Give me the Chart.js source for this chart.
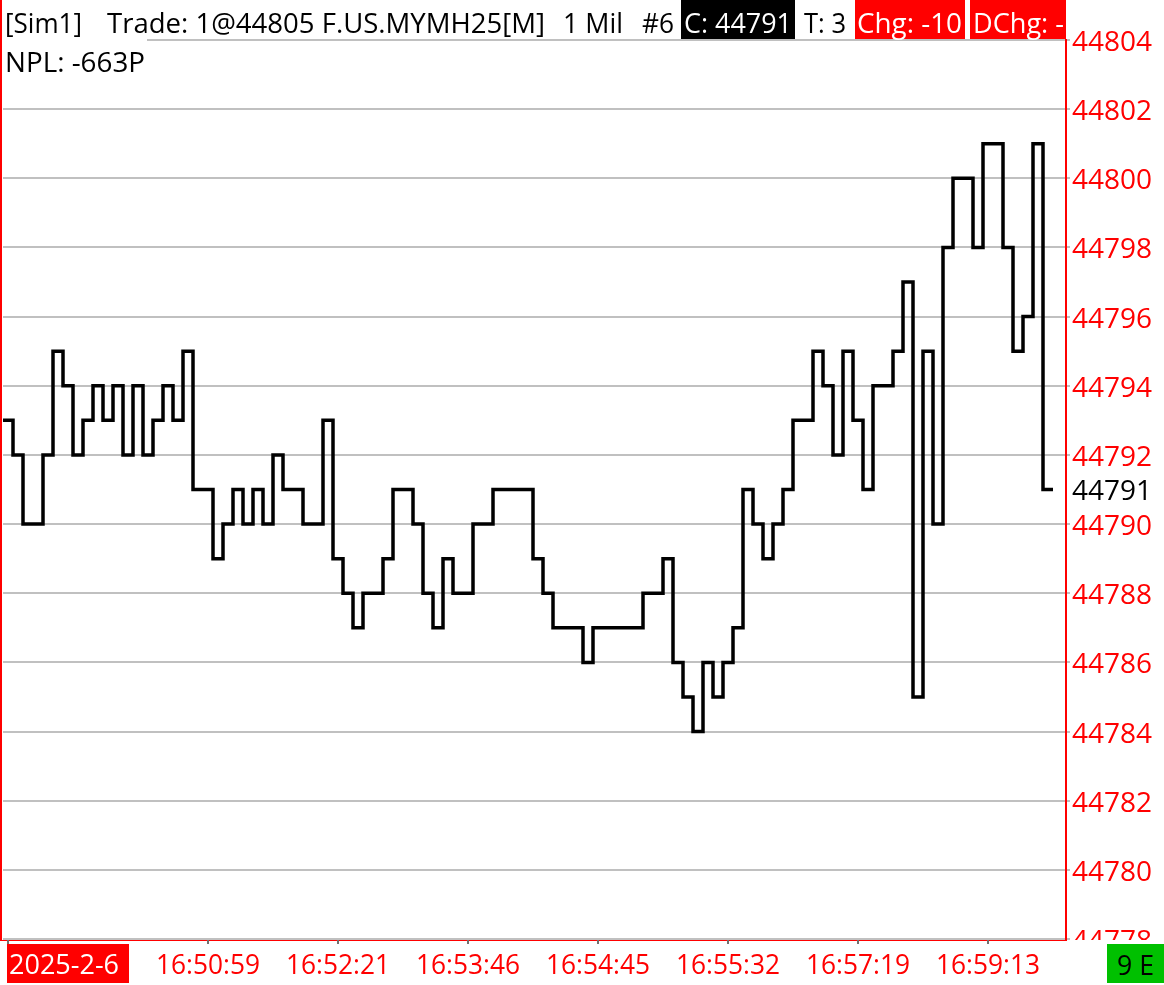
<!DOCTYPE html>
<html>
<head>
<meta charset="utf-8">
<script src="https://cdn.jsdelivr.net/npm/chart.js@4.4.1/dist/chart.umd.min.js"></script>
<style>
html, body { margin: 0; padding: 0; background: #fff; }
#wrap { width: 1164px; height: 985px; position: relative; }
</style>
</head>
<body>
<div id="wrap"><canvas id="tick-chart"></canvas></div>
<script>
// one value per tick bar, left to right
var prices = [
    44793, 44792, 44790, 44790, 44792, 44795, 44794, 44792, 44793, 44794,
    44793, 44794, 44792, 44794, 44792, 44793, 44794, 44793, 44795, 44791,
    44791, 44789, 44790, 44791, 44790, 44791, 44790, 44792, 44791, 44791,
    44790, 44790, 44793, 44789, 44788, 44787, 44788, 44788, 44789, 44791,
    44791, 44790, 44788, 44787, 44789, 44788, 44788, 44790, 44790, 44791,
    44791, 44791, 44791, 44789, 44788, 44787, 44787, 44787, 44786, 44787,
    44787, 44787, 44787, 44787, 44788, 44788, 44789, 44786, 44785, 44784,
    44786, 44785, 44786, 44787, 44791, 44790, 44789, 44790, 44791, 44793,
    44793, 44795, 44794, 44792, 44795, 44793, 44791, 44794, 44794, 44795,
    44797, 44785, 44795, 44790, 44798, 44800, 44800, 44798, 44801, 44801,
    44798, 44795, 44796, 44801, 44791, 44791
];
var priceMin = 44778;
var priceMax = 44804;
var priceStep = 2;

var dateLabel = "2025-2-6";
var timeLabels = ["16:50:59", "16:52:21", "16:53:46", "16:54:45", "16:55:32", "16:57:19", "16:59:13"];
var timeTickBars = [20, 33, 46, 59, 72, 85, 98];

var headerTexts = ["[Sim1]", "Trade: 1@44805 F.US.MYMH25[M]", "1 Mil", "#6", "C: 44791", "T: 3", "Chg: -10", "DChg: -"];
var nplText = "NPL: -663P";
var barCountText = "9 E";

var FONT = '"Open Sans", "Noto Sans", sans-serif';

var overlay = {
    id: 'overlay',
    afterDraw: function(chart) {
        var ctx = chart.ctx;
        var xs = chart.scales.x;
        var ys = chart.scales.y;
        var area = chart.chartArea;
        ctx.save();

        // bottom strip hides the cut 44778 label
        ctx.fillStyle = '#fff';
        ctx.fillRect(0, area.bottom + 1, chart.width, chart.height - area.bottom);
        // hide top grid line under the first header words
        ctx.fillRect(2, area.top - 2, 145, 4);

        // frame lines
        ctx.fillStyle = '#ff0000';
        ctx.fillRect(0, 0, 2, area.bottom + 2);
        ctx.fillRect(0, area.bottom + 1, area.right + 1, 1);

        // x ticks
        ctx.strokeStyle = '#707070';
        ctx.lineWidth = 2;
        var tickBars = [0].concat(timeTickBars);
        tickBars.forEach(function(b) {
            var px = Math.round(xs.getPixelForValue(b + 0.5));
            ctx.beginPath();
            ctx.moveTo(px, area.bottom + 1);
            ctx.lineTo(px, area.bottom + 5);
            ctx.stroke();
        });

        // date box
        ctx.fillStyle = '#ff0000';
        ctx.fillRect(7, 944, 122, 39);
        ctx.font = '27px ' + FONT;
        ctx.textBaseline = 'alphabetic';
        ctx.textAlign = 'left';
        ctx.fillStyle = '#fff';
        ctx.fillText(dateLabel, 9, 974, 118);

        // time labels
        ctx.fillStyle = '#ff0000';
        ctx.textAlign = 'center';
        timeLabels.forEach(function(t, i) {
            var px = xs.getPixelForValue(timeTickBars[i] + 0.5);
            ctx.fillText(t, px, 974, 104);
        });

        // bar counter
        ctx.fillStyle = '#00c000';
        ctx.fillRect(1107, 944, 57, 39);
        ctx.fillStyle = '#000';
        ctx.textAlign = 'left';
        ctx.fillText(barCountText, 1117, 975, 37);

        // header
        ctx.font = '28px ' + FONT;
        ctx.fillStyle = '#000';
        ctx.fillText(headerTexts[0], 5, 33, 77);
        ctx.fillText(headerTexts[1], 107, 33, 438);
        ctx.fillText(headerTexts[2], 563, 33, 60);
        ctx.fillText(headerTexts[3], 642, 33, 32);
        ctx.fillRect(681, 0, 114, 39);
        ctx.fillStyle = '#fff';
        ctx.fillText(headerTexts[4], 684, 33, 108);
        ctx.fillStyle = '#000';
        ctx.fillText(headerTexts[5], 804, 33, 42);
        ctx.fillStyle = '#ff0000';
        ctx.fillRect(855, 0, 110, 39);
        ctx.fillRect(970, 0, 96, 39);
        ctx.fillStyle = '#fff';
        ctx.fillText(headerTexts[6], 857, 33, 105);
        ctx.fillText(headerTexts[7], 973, 33, 91);
        ctx.fillStyle = '#000';
        ctx.fillText(nplText, 5, 72, 140);

        // last price tag
        var last = prices[prices.length - 1];
        ctx.fillText(String(last), 1072, ys.getPixelForValue(last) + 10, 80);

        ctx.restore();
    }
};

var ctx = document.getElementById('tick-chart').getContext('2d');
var points = prices.map(function(p, i) { return { x: i, y: p }; });

var chart = new Chart(ctx, {
    type: 'line',
    data: {
        datasets: [{
            data: points,
            stepped: true,
            borderColor: '#000',
            borderWidth: 3.5,
            borderJoinStyle: 'miter',
            pointRadius: 0,
            fill: false
        }]
    },
    options: {
        responsive: true,
        maintainAspectRatio: false,
        animation: false,
        devicePixelRatio: 1,
        layout: { padding: { left: 3, top: 40, bottom: 46, right: 0 } },
        plugins: {
            legend: { display: false },
            tooltip: { enabled: false }
        },
        scales: {
            x: {
                type: 'linear',
                display: false,
                min: 0,
                max: 106.3
            },
            y: {
                position: 'right',
                min: priceMin,
                max: priceMax,
                afterFit: function(scale) { scale.width = 98; },
                ticks: {
                    stepSize: priceStep,
                    color: '#ff0000',
                    padding: 2,
                    labelOffset: 3,
                    autoSkip: false,
                    font: { family: FONT, size: 28 },
                    callback: function(v) { return String(v); }
                },
                grid: {
                    color: '#c0c0c0',
                    lineWidth: 2,
                    tickLength: 4
                },
                border: { color: '#ff0000', width: 2 }
            }
        }
    },
    plugins: [overlay]
});
</script>
</body>
</html>
